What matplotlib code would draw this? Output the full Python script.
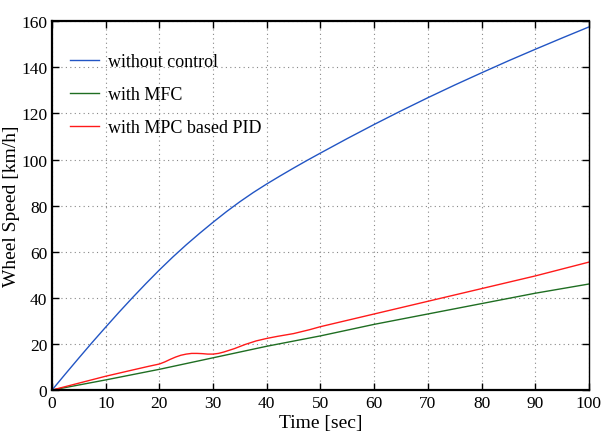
import matplotlib
matplotlib.use("Agg")
import matplotlib.pyplot as plt
import numpy as np

t_blue = [0, 2.5, 5, 7.5, 10, 12.5, 15, 17.5, 20, 22.5, 25, 27.5, 30, 32.5, 35, 37.5,
          40, 42.5, 45, 47.5, 50, 55, 60, 65, 70, 75, 80, 85, 90, 95, 100]
v_blue = [0, 7.0, 13.9, 20.7, 27.3, 33.8, 40.1, 46.2, 52.1, 57.7, 63.0, 68.0, 72.8, 77.4,
          81.7, 85.7, 89.4, 92.9, 96.3, 99.6, 102.8, 109.1, 115.2, 121.1, 126.8, 132.3,
          137.6, 142.8, 147.8, 152.7, 157.5]

t_green = [0, 10, 20, 30, 40, 50, 60, 70, 80, 90, 100]
v_green = [0, 4.4, 9, 14, 19, 23.5, 28.5, 33, 37.5, 42, 46]

t_red = [0, 5, 10, 15, 18, 20, 21, 22, 23, 24, 25, 26, 27, 28, 29, 30, 31, 32, 34, 36, 38,
         40, 42, 45, 48, 50, 60, 70, 80, 90, 100]
v_red = [0, 3, 6, 8.7, 10.3, 11.3, 12.2, 13.3, 14.3, 15.1, 15.6, 15.9, 15.9, 15.8, 15.6,
         15.6, 15.9, 16.5, 18, 19.8, 21.3, 22.4, 23.3, 24.5, 26.2, 27.5, 33, 38.5, 44, 49.5, 55.5]

labels = ["without control", "with MFC", "with MPC based PID"]
colors = ["#2255c4", "#1f6e22", "#ff1a1a"]

plt.rcParams['font.family'] = ['Liberation Serif', 'DejaVu Serif']

fig = plt.figure(figsize=(6.06, 4.35), dpi=100)
ax = fig.add_axes([0.0858, 0.101, 0.886, 0.848])

ax.plot(t_blue, v_blue, color=colors[0], lw=1.0, label=labels[0])
ax.plot(t_green, v_green, color=colors[1], lw=1.0, label=labels[1])
ax.plot(t_red, v_red, color=colors[2], lw=1.0, label=labels[2])

ax.set_xlim(0, 100)
ax.set_ylim(0, 160)
ax.set_xticks(np.arange(0, 101, 10))
ax.set_yticks(np.arange(0, 161, 20))
ax.grid(True, linestyle=(0, (1, 3)), color='#888888', lw=0.8)
ax.tick_params(direction='in', top=True, right=True, labelsize=12.5, length=5, width=1)
for s in ax.spines.values():
    s.set_linewidth(1.6)
ax.spines['right'].set_linewidth(1.0)

ax.set_xlabel("Time [sec]", fontsize=14, labelpad=2)
ax.set_ylabel("Wheel Speed [km/h]", fontsize=14, labelpad=1)

leg = ax.legend(loc='upper left', frameon=False, fontsize=13, handlelength=1.6,
                handletextpad=0.5, bbox_to_anchor=(0.004, 0.958), labelspacing=0.9)

fig.savefig("out.png", dpi=100)
